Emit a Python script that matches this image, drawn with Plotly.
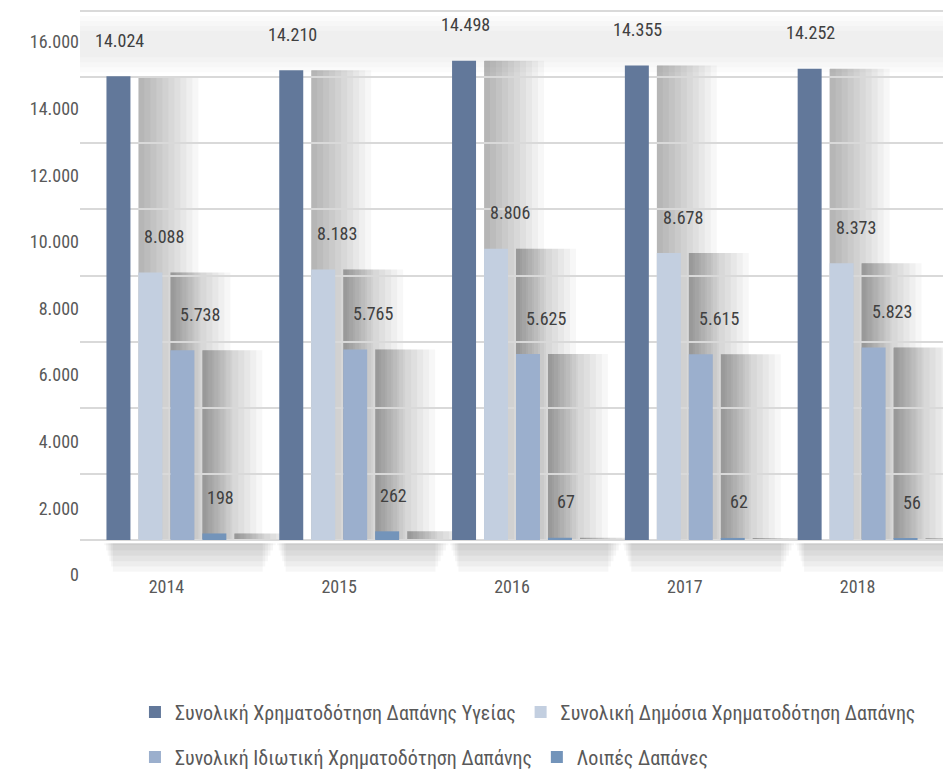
import plotly.graph_objects as go

years = ["2014", "2015", "2016", "2017", "2018"]
total_health = [14024, 14210, 14498, 14355, 14252]
public_fin = [8088, 8183, 8806, 8678, 8373]
private_fin = [5738, 5765, 5625, 5615, 5823]
other_exp = [198, 262, 67, 62, 56]

series_names = [
    "Συνολική Χρηματοδότηση Δαπάνης Υγείας",
    "Συνολική Δημόσια Χρηματοδότηση Δαπάνης",
    "Συνολική Ιδιωτική Χρηματοδότηση Δαπάνης",
    "Λοιπές Δαπάνες",
]
series_values = [total_health, public_fin, private_fin, other_exp]
colors = ["#62789a", "#c3cfe0", "#9bafcd", "#7394ba"]
legend_ids = ["legend", "legend", "legend2", "legend2"]
label_xshift = [1, 14, 18, 6]

ytick_vals = list(range(0, 16001, 2000))
ytick_text = [f"{v:,}".replace(",", ".") for v in ytick_vals]

FONT = "Roboto Condensed, Liberation Sans Narrow, Roboto, sans-serif"

# layout geometry (figure pixels)
W, H = 951, 778
ML, MR, MT, MB = 72, 15, 0, 186
BARGAP, GROUPGAP = 0.26, 0.25
plot_w = W - ML - MR
px_per_cat = plot_w / len(years)
slot = (1 - BARGAP) / len(series_values)           # category units
bar_range = [-1815, 16091]
label_range = [-750, 17021]

fig = go.Figure()
for name, vals, col, lg in zip(series_names, series_values, colors, legend_ids):
    fig.add_trace(go.Bar(x=list(range(len(years))), y=vals, name=name,
                         marker=dict(color=col, line=dict(width=0)),
                         yaxis="y", xaxis="x", legend=lg))

# invisible trace to activate label axis
fig.add_trace(go.Scatter(x=list(range(len(years))), y=total_health, yaxis="y2", xaxis="x",
                         mode="markers", marker=dict(opacity=0), showlegend=False, hoverinfo="skip"))

# soft shadows (3D look of the original)
shapes = []
for k in range(1, 5):
    shapes.append(dict(type="rect", xref="paper", yref="y", x0=0, x1=1,
                       y0=ytick_vals[-2] + 150 * k, y1=ytick_vals[-1] - 150 * k,
                       fillcolor="rgba(0,0,0,0.015)", line=dict(width=0), layer="below"))
for i, vals in enumerate(series_values):
    for j, v in enumerate(vals):
        center = j + (i - 1.5) * slot
        start = center + slot / 2 + slot * GROUPGAP / 2
        for k in range(1, 11):
            shapes.append(dict(type="rect", xref="x", yref="y",
                               x0=start, x1=start + k * 6 / px_per_cat, y0=0, y1=v,
                               fillcolor="rgba(0,0,0,0.03)", line=dict(width=0), layer="below"))
for j in range(len(years)):
    gl = j - 2 * slot
    gr = j + 2 * slot + slot * 1.5
    for k in range(1, 7):
        shapes.append(dict(type="rect", xref="x", yref="y",
                           x0=gl + k * 0.01, x1=gr - k * 0.015, y0=-100, y1=-160 * k,
                           fillcolor="rgba(0,0,0,0.035)", line=dict(width=0), layer="below"))

annotations = []
for i, vals in enumerate(series_values):
    for j, v in enumerate(vals):
        annotations.append(dict(
            x=j, y=v, xref="x", yref="y",
            text=f"{v:,}".replace(",", "."),
            showarrow=False, xshift=(i - 1.5) * slot * px_per_cat + label_xshift[i], yshift=36,
            font=dict(family=FONT, size=18, color="#404040"),
        ))

legend_style = dict(orientation="h", xref="container", yref="container", x=0.1335, xanchor="left",
                    yanchor="middle", font=dict(family=FONT, size=20, color="#595959"),
                    traceorder="normal", bgcolor="rgba(0,0,0,0)")

fig.update_layout(
    width=W, height=H,
    margin=dict(l=ML, r=MR, t=MT, b=MB, autoexpand=False),
    paper_bgcolor="white", plot_bgcolor="white",
    barmode="group", bargap=BARGAP, bargroupgap=GROUPGAP,
    font=dict(family=FONT, size=18, color="#595959"),
    xaxis=dict(range=[-0.5, len(years) - 0.5], tickvals=list(range(len(years))), ticktext=years,
               showgrid=False, zeroline=False, showline=False,
               ticks="", ticklabelposition="inside", automargin=False,
               tickfont=dict(family=FONT, size=18, color="#595959")),
    yaxis=dict(range=bar_range, tickvals=ytick_vals, showticklabels=False,
               showgrid=True, gridcolor="#d9d9d9", gridwidth=2, zeroline=False, automargin=False),
    yaxis2=dict(range=label_range, overlaying="y", side="left", tickvals=ytick_vals,
                ticktext=ytick_text, showgrid=False, zeroline=False, automargin=False,
                tickfont=dict(family=FONT, size=18, color="#595959")),
    legend=dict(y=1 - 704 / H, **legend_style),
    legend2=dict(y=1 - 749 / H, **legend_style),
    shapes=shapes,
    annotations=annotations,
    showlegend=True,
)

fig.write_html("out.html")
